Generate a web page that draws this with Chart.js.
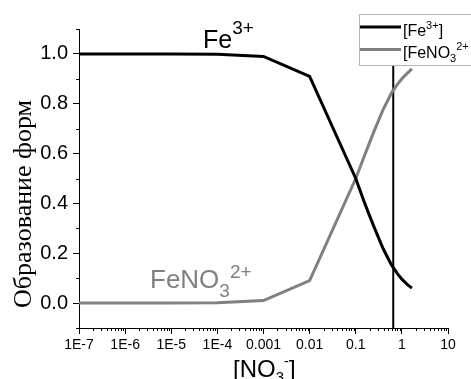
<!DOCTYPE html>
<html>
<head>
<meta charset="utf-8">
<script src="https://cdn.jsdelivr.net/npm/chart.js@4/dist/chart.umd.min.js"></script>
<style>
  html, body { margin: 0; padding: 0; background: #fff; }
  #wrap { width: 471px; height: 379px; }
</style>
</head>
<body>
<div id="wrap"><canvas id="myChart" width="471" height="379"></canvas></div>
<script>
// concentration of NO3- (log axis)
const conc = [1e-7, 1e-6, 1e-5, 1e-4, 0.001, 0.01, 0.1, 0.15, 0.2, 0.25, 0.3, 0.4, 0.5, 0.6, 0.8, 1.0, 1.3, 1.65];
const fe3 = [1, 1, 1, 0.999, 0.99, 0.91, 0.50, 0.41, 0.35, 0.305, 0.27, 0.215, 0.18, 0.152, 0.118, 0.096, 0.075, 0.06];
const feNO3 = [0, 0, 0, 0.001, 0.01, 0.09, 0.50, 0.585, 0.645, 0.69, 0.725, 0.78, 0.815, 0.845, 0.878, 0.90, 0.922, 0.94];
const markerX = 0.65;
const xTicks = [1e-7, 1e-6, 1e-5, 1e-4, 0.001, 0.01, 0.1, 1, 10];
const yTicks = [0, 0.2, 0.4, 0.6, 0.8, 1.0];
const yMinor = [-0.1, 0.1, 0.3, 0.5, 0.7, 0.9, 1.1];

const toPts = (ys) => conc.map((x, i) => ({ x: x, y: ys[i] }));

function xLabel(v) {
  if (v >= 0.001) return String(v);
  return "1E" + Math.round(Math.log10(v));
}

// draws text pieces: [text, size, dy]
function drawRich(ctx, x, y, parts, color) {
  ctx.fillStyle = color;
  ctx.textBaseline = "alphabetic";
  ctx.textAlign = "left";
  parts.forEach(p => {
    ctx.font = p[1] + "px 'Liberation Sans', Arial, sans-serif";
    ctx.fillText(p[0], x, y + p[2]);
    x += ctx.measureText(p[0]).width;
  });
}

const extras = {
  id: "extras",
  afterDraw(chart) {
    const ctx = chart.ctx;
    const xs = chart.scales.x, ys = chart.scales.y;
    const area = chart.chartArea;
    ctx.save();
    // minor ticks
    ctx.strokeStyle = "#000";
    ctx.lineWidth = 1;
    ctx.beginPath();
    for (let e = -7; e < 1; e++) {
      for (let m = 2; m <= 9; m++) {
        const px = Math.round(xs.getPixelForValue(m * Math.pow(10, e))) + 0.5;
        ctx.moveTo(px, area.bottom);
        ctx.lineTo(px, area.bottom + 3);
      }
    }
    yMinor.forEach(v => {
      const py = Math.round(ys.getPixelForValue(v)) + 0.5;
      ctx.moveTo(area.left - 3, py);
      ctx.lineTo(area.left, py);
    });
    ctx.stroke();

    // annotations
    drawRich(ctx, 203, 48, [["Fe", 25, 0], ["3+", 19, -14]], "#000");
    drawRich(ctx, 150, 288, [["FeNO", 26, 0], ["3", 19, 9], ["2+", 19, -10]], "#808080");

    // axis titles
    ctx.save();
    ctx.translate(31, 204);
    ctx.rotate(-Math.PI / 2);
    ctx.font = "26px 'Liberation Serif', 'Times New Roman', serif";
    ctx.fillStyle = "#000";
    ctx.textAlign = "center";
    ctx.textBaseline = "alphabetic";
    ctx.fillText("Образование форм", 0, 0);
    ctx.restore();
    drawRich(ctx, 233, 377, [["[NO", 24, 0], ["3", 15, 5], ["-", 15, -11], ["]", 24, 0]], "#000");

    // legend
    ctx.fillStyle = "#fff";
    ctx.fillRect(359.5, 14.5, 130, 51);
    ctx.strokeStyle = "#b4b4b4";
    ctx.lineWidth = 1;
    ctx.strokeRect(359.5, 14.5, 130, 51);
    ctx.lineWidth = 3;
    ctx.strokeStyle = "#000";
    ctx.beginPath(); ctx.moveTo(360, 27); ctx.lineTo(401, 27); ctx.stroke();
    ctx.strokeStyle = "#808080";
    ctx.beginPath(); ctx.moveTo(360, 49.5); ctx.lineTo(401, 49.5); ctx.stroke();
    drawRich(ctx, 403, 36, [["[Fe", 16, 0], ["3+", 11, -7], ["]", 16, 0]], "#000");
    drawRich(ctx, 403, 58, [["[FeNO", 16, 0], ["3", 11, 4], ["2+", 11, -8]], "#000");
    ctx.restore();
  }
};

const config = {
  type: "line",
  data: {
    datasets: [
      { label: "[Fe3+]", data: toPts(fe3), borderColor: "#000", borderWidth: 3, pointRadius: 0, tension: 0 },
      { label: "[FeNO3 2+]", data: toPts(feNO3), borderColor: "#808080", borderWidth: 3, pointRadius: 0, tension: 0 },
      { label: "marker", data: [{ x: markerX, y: -0.1 }, { x: markerX, y: 1.1 }], borderColor: "#000", borderWidth: 2, pointRadius: 0 }
    ]
  },
  options: {
    responsive: false,
    animation: false,
    layout: { padding: { top: 29, right: 23, left: 0, bottom: 0 } },
    plugins: { legend: { display: false }, tooltip: { enabled: false } },
    scales: {
      x: {
        type: "logarithmic",
        min: 1e-7,
        max: 10,
        afterBuildTicks: (s) => { s.ticks = xTicks.map(v => ({ value: v, major: true })); },
        afterFit: (s) => { s.height = 51; },
        border: { display: true, color: "#000", width: 1 },
        grid: { display: true, drawOnChartArea: false, drawTicks: true, tickLength: 6, tickColor: "#000" },
        ticks: {
          autoSkip: false,
          maxRotation: 0,
          padding: 3,
          color: "#000",
          font: { family: "'Liberation Sans', Arial, sans-serif", size: 14 },
          callback: (v) => xLabel(v)
        }
      },
      y: {
        min: -0.1,
        max: 1.1,
        afterBuildTicks: (s) => { s.ticks = yTicks.map(v => ({ value: v })); },
        afterFit: (s) => { s.width = 79; },
        border: { display: true, color: "#000", width: 1 },
        grid: { display: true, drawOnChartArea: false, drawTicks: true, tickLength: 6, tickColor: "#000" },
        ticks: {
          padding: 5,
          color: "#000",
          font: { family: "'Liberation Sans', Arial, sans-serif", size: 20 },
          callback: (v) => Number(v).toFixed(1)
        }
      }
    }
  },
  plugins: [extras]
};

const myChart = new Chart(document.getElementById("myChart"), config);
</script>
</body>
</html>
